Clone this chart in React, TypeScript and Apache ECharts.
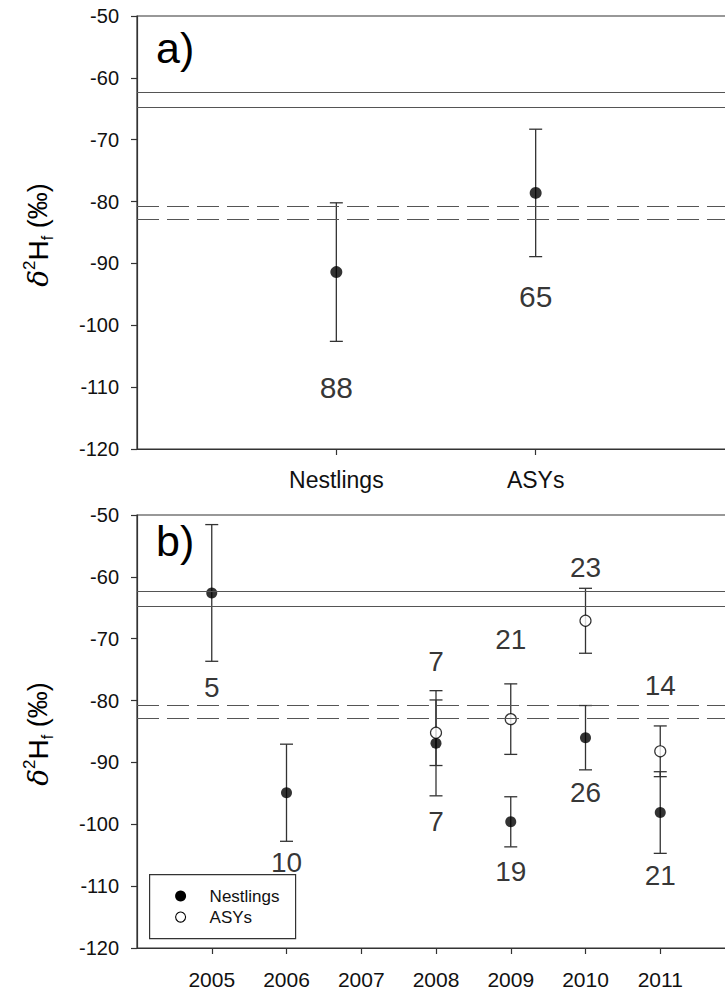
import React, { useEffect, useRef } from "react";
import * as echarts from "echarts";

// ---------- Panel a ----------
const groupsA = ["Nestlings", "ASYs"];
const groupPosA = [1, 2];
const meanA = [-91.4, -78.6];
const errA = [11.2, 10.3];
const nA = [88, 65];
const nLabelYA = [-110, -95.3];

// ---------- Panel b ----------
const nestYears = [2005, 2006, 2008, 2009, 2010, 2011];
const nestMean = [-62.6, -94.9, -86.9, -99.6, -86.0, -98.1];
const nestErr = [11.05, 7.85, 8.5, 4.05, 5.2, 6.6];
const nestN = [5, 10, 7, 19, 26, 21];
const nestNLabelY = [-77.9, -106.1, -99.6, -107.7, -94.8, -108.3];

const asyYears = [2008, 2009, 2010, 2011];
const asyMean = [-85.2, -83.0, -67.1, -88.2];
const asyErr = [5.3, 5.7, 5.25, 4.1];
const asyN = [7, 21, 23, 14];
const asyNLabelY = [-73.7, -70.2, -58.5, -77.5];

const yearTicks = [2005, 2006, 2007, 2008, 2009, 2010, 2011];

// reference lines
const solidRefs = [-62.4, -64.8];
const dashedRefs = [-80.8, -82.8];

const legendNames = ["Nestlings", "ASYs"];

const FONT = "'Liberation Sans', Arial, Helvetica, sans-serif";
const INK = "#000";
const AXIS = "#333";

function errorBarSeries(xs: number[], means: number[], errs: number[], xi: number, yi: number) {
  return {
    type: "custom",
    xAxisIndex: xi,
    yAxisIndex: yi,
    silent: true,
    z: 2,
    data: xs.map((x, i) => [x, means[i] - errs[i], means[i] + errs[i]]),
    encode: { x: 0, y: [1, 2] },
    renderItem: (params: any, api: any) => {
      const x = api.value(0);
      const lo = api.coord([x, api.value(1)]);
      const hi = api.coord([x, api.value(2)]);
      const hw = 6.5;
      const style = { stroke: "#333", lineWidth: 1.3 };
      return {
        type: "group",
        children: [
          { type: "line", shape: { x1: lo[0], y1: lo[1], x2: hi[0], y2: hi[1] }, style },
          { type: "line", shape: { x1: lo[0] - hw, y1: lo[1], x2: lo[0] + hw, y2: lo[1] }, style },
          { type: "line", shape: { x1: hi[0] - hw, y1: hi[1], x2: hi[0] + hw, y2: hi[1] }, style },
        ],
      };
    },
  };
}

// sample-size labels at data coordinates
function countLabelSeries(xs: number[], ys: number[], ns: number[], xi: number, yi: number, fontSize: number) {
  return {
    type: "scatter",
    xAxisIndex: xi,
    yAxisIndex: yi,
    silent: true,
    symbolSize: 1,
    itemStyle: { color: "rgba(0,0,0,0)" },
    z: 5,
    data: xs.map((x, i) => [x, ys[i], ns[i]]),
    label: {
      show: true,
      position: "inside",
      formatter: (p: any) => String(p.value[2]),
      fontFamily: FONT,
      fontSize,
      color: INK,
    },
  };
}

function refLines() {
  return {
    symbol: ["none", "none"],
    silent: true,
    label: { show: false },
    animation: false,
    data: [
      ...solidRefs.map((v) => ({ yAxis: v, lineStyle: { color: "#555", width: 1.2, type: "solid" } })),
      ...dashedRefs.map((v) => ({ yAxis: v, lineStyle: { color: "#555", width: 1.2, type: [22, 8] } })),
    ],
  };
}

function yAxisCfg(gi: number) {
  return {
    type: "value",
    gridIndex: gi,
    min: -120,
    max: -50,
    interval: 10,
    axisLine: { show: true, lineStyle: { color: AXIS, width: 1.2 } },
    axisTick: { show: true, length: 6, lineStyle: { color: AXIS, width: 1.2 } },
    axisLabel: { fontFamily: FONT, fontSize: 20, color: "#111", margin: 18 },
    splitLine: { show: false },
  };
}

const titleRich = {
  d: { fontFamily: "'DejaVu Serif', serif", fontStyle: "italic", fontSize: 28, color: INK },
  sup: { fontFamily: FONT, fontSize: 17, color: INK, verticalAlign: "top", lineHeight: 34 },
  h: { fontFamily: FONT, fontSize: 28, color: INK },
  sub: { fontFamily: FONT, fontSize: 16, color: INK, verticalAlign: "bottom", lineHeight: 34 },
  n: { fontFamily: FONT, fontSize: 27, color: INK },
};

function yTitle(cy: number) {
  return {
    type: "text",
    x: 38,
    y: cy,
    rotation: Math.PI / 2,
    style: {
      text: "{d|δ}{sup|2}{h|H}{sub|f}{n| (‰)}",
      rich: titleRich,
      align: "center",
      verticalAlign: "middle",
    },
  };
}

function legendGraphic() {
  return {
    type: "group",
    left: 149,
    top: 874,
    z: 20,
    children: [
      { type: "rect", shape: { x: 0, y: 0, width: 146, height: 64 }, style: { fill: "#fff", stroke: "#333", lineWidth: 1.2 } },
      { type: "circle", shape: { cx: 31, cy: 21.5, r: 5.5 }, style: { fill: "#000" } },
      { type: "circle", shape: { cx: 31, cy: 42.5, r: 5 }, style: { fill: "#fff", stroke: "#000", lineWidth: 1.1 } },
      { type: "text", x: 60, y: 21.5, style: { text: legendNames[0], fontFamily: FONT, fontSize: 17, fill: "#111", verticalAlign: "middle" } },
      { type: "text", x: 60, y: 42.5, style: { text: legendNames[1], fontFamily: FONT, fontSize: 17, fill: "#111", verticalAlign: "middle" } },
    ],
  };
}

export default function App() {
  const ref = useRef<HTMLDivElement>(null);
  useEffect(() => {
    if (!ref.current) return;
    const chart = echarts.init(ref.current, undefined, { renderer: "svg" });
    const option: any = {
      animation: false,
      backgroundColor: "#fff",
      textStyle: { fontFamily: FONT },
      grid: [
        { left: 137, width: 598, top: 16, height: 433, outerBoundsMode: "none", containLabel: false, show: true, borderColor: AXIS, borderWidth: 1.2, backgroundColor: "transparent" },
        { left: 137, width: 598, top: 515, height: 433, outerBoundsMode: "none", containLabel: false, show: true, borderColor: AXIS, borderWidth: 1.2, backgroundColor: "transparent" },
      ],
      xAxis: [
        {
          type: "value",
          gridIndex: 0,
          min: 0,
          max: 3,
          axisLine: { show: true, onZero: false, lineStyle: { color: AXIS, width: 1.2 } },
          axisTick: { show: true, length: 6, customValues: groupPosA, lineStyle: { color: AXIS, width: 1.2 } },
          axisLabel: {
            customValues: groupPosA,
            formatter: (v: number) => groupsA[groupPosA.indexOf(v)] ?? "",
            fontFamily: FONT,
            fontSize: 23,
            color: "#111",
            margin: 19,
          },
          splitLine: { show: false },
        },
        {
          type: "value",
          gridIndex: 1,
          min: 2004,
          max: 2012,
          interval: 1,
          axisLine: { show: true, onZero: false, lineStyle: { color: AXIS, width: 1.2 } },
          axisTick: { show: true, length: 6, customValues: yearTicks, lineStyle: { color: AXIS, width: 1.2 } },
          axisLabel: {
            customValues: yearTicks,
            formatter: (v: number) => String(v),
            fontFamily: FONT,
            fontSize: 21,
            color: "#111",
            margin: 21,
          },
          splitLine: { show: false },
        },
      ],
      yAxis: [yAxisCfg(0), yAxisCfg(1)],
      graphic: [
        { type: "text", left: 156, top: 26, style: { text: "a)", fontFamily: FONT, fontSize: 43, fill: INK } },
        { type: "text", left: 156, top: 519, style: { text: "b)", fontFamily: FONT, fontSize: 43, fill: INK } },
        yTitle(235),
        yTitle(734),
        legendGraphic(),
      ],
      series: [
        // Panel a
        errorBarSeries(groupPosA, meanA, errA, 0, 0),
        {
          type: "scatter",
          name: "means a",
          xAxisIndex: 0,
          yAxisIndex: 0,
          symbol: "circle",
          symbolSize: 12,
          itemStyle: { color: "#000" },
          z: 3,
          data: groupPosA.map((x, i) => [x, meanA[i]]),
          markLine: refLines(),
        },
        countLabelSeries(groupPosA, nLabelYA, nA, 0, 0, 30),
        // Panel b
        errorBarSeries(nestYears, nestMean, nestErr, 1, 1),
        errorBarSeries(asyYears, asyMean, asyErr, 1, 1),
        {
          type: "scatter",
          name: legendNames[0],
          xAxisIndex: 1,
          yAxisIndex: 1,
          symbol: "circle",
          symbolSize: 11,
          itemStyle: { color: "#000" },
          z: 3,
          data: nestYears.map((x, i) => [x, nestMean[i]]),
          markLine: refLines(),
        },
        {
          type: "scatter",
          name: legendNames[1],
          xAxisIndex: 1,
          yAxisIndex: 1,
          symbol: "circle",
          symbolSize: 11,
          itemStyle: { color: "#fff", borderColor: "#000", borderWidth: 1.2 },
          z: 3,
          data: asyYears.map((x, i) => [x, asyMean[i]]),
        },
        countLabelSeries(nestYears, nestNLabelY, nestN, 1, 1, 28),
        countLabelSeries(asyYears, asyNLabelY, asyN, 1, 1, 28),
      ],
    };
    chart.setOption(option);
    return () => chart.dispose();
  }, []);
  return (
    <div
      ref={ref}
      style={{ position: "absolute", left: 0, top: 0, width: 725, height: 993, background: "#fff" }}
    />
  );
}
